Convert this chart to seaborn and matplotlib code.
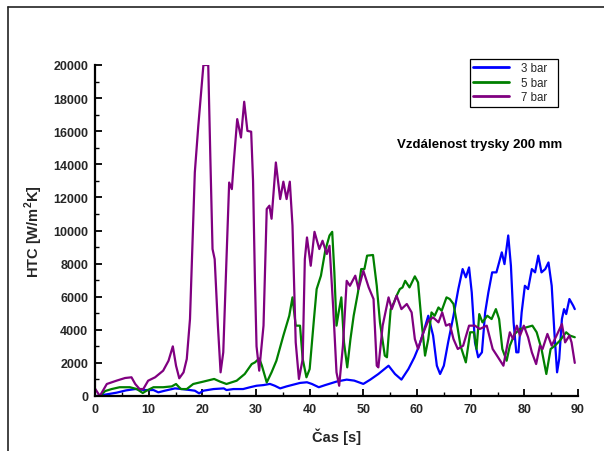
import matplotlib
matplotlib.use("Agg")
import matplotlib.pyplot as plt
from matplotlib.lines import Line2D
from matplotlib.ticker import MultipleLocator
import numpy as np
import pandas as pd
import seaborn as sns

# ---- data ----
t_3bar = [0.0, 0.3, 2.2, 4.0, 5.8, 7.5, 9.3, 10.9, 11.8, 13.0,
          14.9, 16.2, 17.7, 18.6, 19.4, 20.2, 22.1, 24.0, 24.5, 25.8,
          27.6, 28.9, 30.1, 31.4, 32.6, 33.5, 34.5, 35.7, 38.2, 39.5,
          40.4, 41.7, 42.9, 45.0, 46.9, 48.3, 50.0, 51.3, 52.8, 54.7,
          55.9, 57.1, 58.4, 59.5, 60.4, 61.2, 62.1, 63.0, 63.7, 64.3,
          65.0, 65.8, 66.8, 67.7, 68.5, 69.1, 69.7, 70.2, 70.8, 71.4,
          72.1, 72.7, 73.3, 74.0, 74.8, 75.3, 75.8, 76.3, 77.0, 77.5,
          78.0, 78.5, 78.9, 79.5, 80.1, 80.7, 81.4, 82.0, 82.6, 83.2,
          83.9, 84.5, 85.1, 85.6, 86.1, 86.5, 87.0, 87.4, 87.8, 88.4,
          89.1, 89.4]
htc_3bar = [0, 0, 100, 200, 340, 420, 360, 360, 220, 320,
            460, 420, 360, 320, 160, 320, 420, 460, 360, 420,
            420, 530, 620, 660, 730, 620, 460, 580, 790, 830,
            730, 530, 660, 870, 990, 930, 730, 990, 1330, 1830,
            1330, 990, 1630, 2330, 3040, 3850, 4850, 3650, 1830, 1330,
            1830, 3240, 4850, 6460, 7670, 7170, 7770, 6260, 3240, 2340,
            2640, 5050, 6260, 7470, 7470, 8070, 8680, 7970, 9700, 7870,
            4450, 2640, 2640, 5050, 6660, 6460, 7670, 7470, 8480, 7470,
            7670, 8070, 6660, 3850, 1430, 2235, 4650, 5250, 4950, 5860,
            5460, 5250]

t_5bar = [0.9, 1.9, 3.1, 4.6, 6.5, 7.8, 8.9, 9.6, 10.9, 12.7,
          14.3, 15.1, 16.0, 17.1, 18.3, 20.2, 22.2, 23.3, 24.5, 26.4,
          27.9, 29.2, 29.8, 30.6, 31.1, 32.0, 32.9, 33.8, 35.1, 36.2,
          36.8, 37.4, 38.2, 38.7, 39.4, 40.0, 40.8, 41.3, 42.1, 42.9,
          43.7, 44.2, 44.6, 45.0, 45.4, 45.9, 46.4, 47.0, 47.6, 48.2,
          49.0, 49.6, 50.2, 50.7, 51.8, 52.5, 53.1, 54.0, 54.4, 55.1,
          55.7, 56.2, 56.8, 57.3, 57.8, 58.6, 59.6, 60.2, 60.8, 61.5,
          62.1, 62.7, 63.3, 64.0, 64.6, 65.5, 66.1, 66.8, 67.4, 68.1,
          69.1, 69.9, 70.6, 71.1, 71.6, 72.2, 73.1, 73.9, 74.7, 75.3,
          75.9, 76.7, 77.3, 78.2, 79.2, 80.4, 81.5, 82.3, 83.2, 84.1,
          84.9, 85.7, 86.6, 87.8, 88.5, 89.4]
htc_5bar = [0, 300, 420, 530, 530, 420, 180, 320, 530, 530,
            580, 725, 420, 420, 725, 870, 1030, 870, 725, 925,
            1330, 1930, 2030, 2270, 1830, 820, 1430, 2130, 3650, 4850,
            5960, 4250, 4250, 2235, 1130, 1630, 4650, 6460, 7270, 8780,
            9700, 9920, 7470, 4250, 5050, 5960, 3240, 1730, 3440, 4850,
            6260, 7670, 7670, 8480, 8520, 6660, 4450, 2440, 2340, 5250,
            5650, 6060, 6460, 6560, 6960, 6560, 7230, 6860, 4650, 2440,
            3440, 5050, 4850, 5350, 5150, 5960, 5860, 5560, 4450, 3040,
            2030, 3850, 3850, 2840, 4950, 4450, 4850, 4650, 5250, 4650,
            2840, 2130, 3040, 3750, 4050, 4150, 4250, 3850, 2840, 1330,
            2840, 3040, 3340, 3850, 3650, 3550]

t_7bar = [0.0, 0.4, 0.9, 2.2, 4.0, 5.6, 6.8, 7.5, 8.3, 9.0,
          9.9, 11.2, 12.7, 13.7, 14.5, 15.1, 15.7, 16.5, 17.1, 17.7,
          18.6, 19.25, 20.2, 21.1, 21.5, 21.9, 22.3, 22.9, 23.4, 23.9,
          24.5, 25.0, 25.5, 25.9, 26.5, 27.2, 27.8, 28.4, 29.1, 29.45,
          29.8, 30.1, 30.6, 31.4, 32.0, 32.5, 32.9, 33.7, 34.5, 35.1,
          35.7, 36.3, 36.8, 37.4, 38.0, 38.7, 39.1, 39.5, 40.2, 40.9,
          41.8, 42.4, 43.2, 43.7, 44.4, 45.0, 45.5, 46.2, 46.9, 47.5,
          48.5, 49.1, 50.0, 51.0, 51.9, 52.5, 52.8, 53.6, 54.7, 55.3,
          56.2, 57.1, 58.1, 59.0, 59.6, 60.2, 61.2, 62.1, 63.0, 64.0,
          64.7, 65.4, 66.1, 66.8, 67.6, 68.6, 69.7, 70.8, 71.7, 73.0,
          74.1, 75.1, 76.1, 76.8, 77.3, 77.9, 78.6, 79.2, 79.9, 80.7,
          81.4, 82.2, 82.9, 83.4, 84.3, 85.1, 86.0, 87.0, 87.6, 88.4,
          88.8, 89.4]
htc_7bar = [450, 250, 0, 725, 925, 1087, 1130, 725, 423, 420,
            925, 1130, 1530, 2130, 3000, 1830, 1070, 1430, 2235, 4650,
            13510, 16330, 20000, 20000, 14300, 8880, 8270, 4250, 1430, 2640,
            8270, 12900, 12500, 14300, 16730, 15620, 17780, 16020, 15970, 13000,
            7000, 3000, 1530, 4250, 11300, 11500, 10710, 14110, 11900, 12950,
            11900, 12950, 10290, 3240, 1030, 2235, 8270, 9580, 7870, 9920,
            8880, 9380, 8580, 9080, 5250, 1430, 620, 3040, 6960, 6660,
            7270, 6460, 7570, 6560, 5860, 1830, 1730, 4250, 5960, 5250,
            6060, 5250, 5560, 5050, 3440, 2840, 3850, 4550, 4750, 4450,
            5050, 4250, 4350, 3440, 2840, 3040, 4250, 4250, 4050, 4250,
            2840, 2340, 1830, 3040, 3850, 3440, 4250, 3650, 4250, 3550,
            2640, 1930, 3040, 2840, 3750, 3040, 3650, 4350, 3240, 3650,
            3240, 2000]

series_labels = ["3 bar", "5 bar", "7 bar"]
series_colors = ["#0000FF", "#008000", "#800080"]
x_ticks = [0, 10, 20, 30, 40, 50, 60, 70, 80, 90]
y_ticks = [0, 2000, 4000, 6000, 8000, 10000, 12000, 14000, 16000, 18000, 20000]
x_label = "Čas [s]"
y_label = "HTC [W/m$^\\mathbf{2}$K]"
annotation = "Vzdálenost trysky 200 mm"

frames = []
for lab, tt, vv in zip(series_labels, [t_3bar, t_5bar, t_7bar],
                       [htc_3bar, htc_5bar, htc_7bar]):
    frames.append(pd.DataFrame({"t": tt, "htc": vv, "series": lab}))
df = pd.concat(frames, ignore_index=True)

# ---- style ----
sns.set_theme(style="white")
plt.rcParams["font.family"] = ["Liberation Sans", "DejaVu Sans"]
plt.rcParams["mathtext.fontset"] = "custom"
plt.rcParams["mathtext.rm"] = "Liberation Sans"
plt.rcParams["mathtext.bf"] = "Liberation Sans:bold"

fig = plt.figure(figsize=(6.04, 4.52), dpi=100)
W, H = 604, 452
ax = fig.add_axes([95 / W, 1 - 397 / H, (578 - 95) / W, (397 - 66) / H])

sns.lineplot(data=df, x="t", y="htc", hue="series", hue_order=series_labels,
             palette=series_colors, estimator=None, sort=False,
             linewidth=1.6, ax=ax)

ax.set_xlim(0, 90)
ax.set_ylim(0, 20000)
ax.set_xticks(x_ticks)
ax.set_yticks(y_ticks)
ax.xaxis.set_minor_locator(MultipleLocator(5))
ax.yaxis.set_minor_locator(MultipleLocator(1000))
ax.set_xticklabels([str(v) for v in x_ticks], fontsize=9, fontweight="bold")
ax.set_yticklabels([str(v) for v in y_ticks], fontsize=9, fontweight="bold")
ax.tick_params(which="major", direction="in", length=5, width=1.3,
               color="black", bottom=True, left=True)
ax.tick_params(which="minor", direction="in", length=3, width=1.0,
               color="black", bottom=True, left=True)
ax.tick_params(axis="x", pad=5)
ax.tick_params(axis="y", pad=5)

for s in ["top", "right"]:
    ax.spines[s].set_visible(False)
for s in ["left", "bottom"]:
    ax.spines[s].set_color("black")
    ax.spines[s].set_linewidth(1.6)

ax.set_xlabel(x_label, fontsize=10.5, fontweight="bold")
ax.set_ylabel(y_label, fontsize=10.5, fontweight="bold")
ax.xaxis.set_label_coords(0.5, -0.094)
ax.yaxis.set_label_coords(-0.104, 0.5)

ax.text(71.7, 15230, annotation, fontsize=9.5, fontweight="bold",
        ha="center", va="center", color="black")

x0 = (470 - 95) / 483
wl = 88 / 483
ytop = (397 - 60) / 331
leg = ax.legend(loc="upper left", bbox_to_anchor=(x0, ytop - 0.15, wl, 0.15),
                mode="expand", borderaxespad=0, fontsize=8.3, frameon=True,
                fancybox=False, edgecolor="black", framealpha=1,
                handlelength=3.1, handletextpad=1.0, labelspacing=0.2,
                borderpad=0.3, title=None)
leg.get_frame().set_linewidth(0.9)
for h in leg.get_lines():
    h.set_linewidth(2.0)

# outer frame lines (left and top)
fig.add_artist(Line2D([8 / W, 8 / W], [0, 1 - 8 / H], transform=fig.transFigure,
                      color="#222222", linewidth=1.2))
fig.add_artist(Line2D([8 / W, 1], [1 - 8 / H, 1 - 8 / H], transform=fig.transFigure,
                      color="#222222", linewidth=1.2))

fig.savefig("out.png", dpi=100)
